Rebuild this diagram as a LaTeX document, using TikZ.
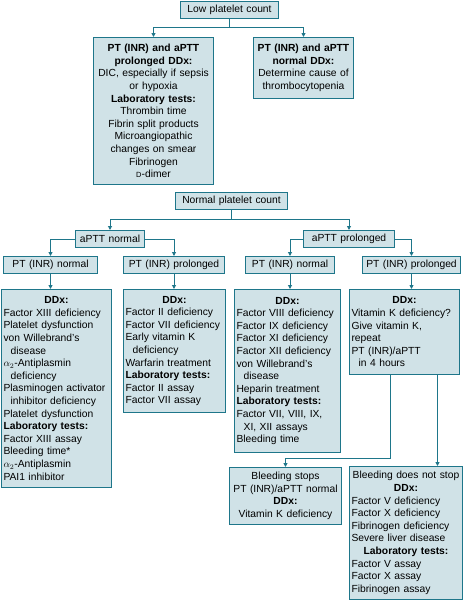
\documentclass[tikz,border=0pt]{standalone}
\usepackage{fontspec}
\setmainfont{Liberation Sans}
\usepackage{tikz}
\usetikzlibrary{arrows.meta}
\definecolor{boxfill}{RGB}{208,226,231}
\definecolor{edge}{RGB}{30,118,138}
\newcommand\hd[1]{{\centering\bfseries #1\par}}
\newcommand\ind{\hspace*{0.7em}}
\setlength{\parindent}{0pt}

\begin{document}
\begin{tikzpicture}[x=1pt, y=-1pt, >={Triangle[length=4pt,width=4pt]},
  box/.style={draw=edge, fill=boxfill, line width=1pt, anchor=north west, inner xsep=2pt, inner ysep=2pt, font={\fontsize{10.3}{12.6}\selectfont}},
  tag/.style={box, align=center, minimum height=17pt},
  list/.style={box, align=left},
  link/.style={draw=edge, line width=0.9pt, ->}]
\useasboundingbox (0,0) rectangle (464,600);
\node[tag, text width=94pt] (low) at (180,1) {Low platelet count};
\node[box, align=center, text width=116pt, minimum height=147pt] (lpro) at (93,37) {\textbf{PT (INR) and aPTT}\\ \textbf{prolonged DDx:}\\ DIC, especially if sepsis\\ or hypoxia\\ \textbf{Laboratory tests:}\\ Thrombin time\\ Fibrin split products\\ Microangiopathic\\ changes on smear\\ Fibrinogen\\ {\fontsize{7.5}{9}\selectfont D}-dimer};
\node[box, align=center, text width=96pt, minimum height=61pt] (lnorm) at (253,37) {\textbf{PT (INR) and aPTT}\\ \textbf{normal DDx:}\\ Determine cause of\\ thrombocytopenia};
\node[tag, text width=108pt] (normal) at (175,192) {Normal platelet count};
\node[tag, text width=65pt] (an) at (75,230) {aPTT normal};
\node[tag, text width=87pt] (ap) at (303,230) {aPTT prolonged};
\node[tag, text width=90pt] (ptnn) at (3,256) {PT (INR) normal};
\node[tag, text width=97pt] (ptnp) at (123,256) {PT (INR) prolonged};
\node[tag, text width=85pt] (ptpn) at (245,256) {PT (INR) normal};
\node[tag, text width=94pt] (ptpp) at (362,256) {PT (INR) prolonged};
\node[list, text width=106pt, minimum height=198pt] (ddx1) at (1,289) {\hd{DDx:}Factor XIII deficiency\\ Platelet dysfunction\\ von Willebrand's\\ \ind disease\\ $\alpha_2$-Antiplasmin\\ \ind deficiency\\ Plasminogen activator\\ \ind inhibitor deficiency\\ Platelet dysfunction\\ \textbf{Laboratory tests:}\\ Factor XIII assay\\ Bleeding time*\\ $\alpha_2$-Antiplasmin\\ PAI1 inhibitor};
\node[list, text width=98pt, minimum height=123pt] (ddx2) at (123,289) {\hd{DDx:}Factor II deficiency\\ Factor VII deficiency\\ Early vitamin K\\ \ind deficiency\\ Warfarin treatment\\ \textbf{Laboratory tests:}\\ Factor II assay\\ Factor VII assay};
\node[list, text width=102pt, minimum height=163pt] (ddx3) at (234,289) {\hd{DDx:}Factor VIII deficiency\\ Factor IX deficiency\\ Factor XI deficiency\\ Factor XII deficiency\\ von Willebrand's\\ \ind disease\\ Heparin treatment\\ \textbf{Laboratory tests:}\\ Factor VII, VIII, IX,\\ \ind XI, XII assays\\ Bleeding time};
\node[list, text width=106pt, minimum height=85pt] (ddx4) at (349,289) {\hd{DDx:}Vitamin K deficiency?\\ Give vitamin K,\\ repeat\\ PT (INR)/aPTT\\ \ind in 4 hours};
\node[box, align=center, text width=108pt, minimum height=57pt] (stops) at (229,467) {Bleeding stops\\ PT (INR)/aPTT normal\\ \textbf{DDx:}\\ Vitamin K deficiency};
\node[list, text width=109pt, minimum height=133pt] (nostop) at (349,466) {\hd{\mdseries Bleeding does not stop}\hd{DDx:}Factor V deficiency\\ Factor X deficiency\\ Fibrinogen deficiency\\ Severe liver disease\par\hd{Laboratory tests:}Factor V assay\\ Factor X assay\\ Fibrinogen assay};
\draw[link] (low.south) -- ++(0,8) -| (lpro.north);
\draw[link] (low.south) -- ++(0,8) -| (lnorm.north);
\draw[link] (normal.south) -- ++(0,9) -| (an.north);
\draw[link] (normal.south) -- ++(0,9) -| (ap.north);
\draw[link] (an.west) -| (ptnn.north);
\draw[link] (an.east) -| (ptnp.north);
\draw[link] (ap.west) -| (ptpn.north);
\draw[link] (ap.east) -| (ptpp.north);
\draw[link] (ptnn.south) -- (ptnn.south |- ddx1.north);
\draw[link] (ptnp.south) -- (ptnp.south |- ddx2.north);
\draw[link] (ptpn.south) -- (ptpn.south |- ddx3.north);
\draw[link] (ptpp.south) -- (ptpp.south |- ddx4.north);
\draw[link] ([xshift=-14pt]ddx4.south) -- ++(0,83) -| (stops.north);
\draw[link] ([xshift=33pt]ddx4.south) -- ([xshift=33pt]ddx4.south |- nostop.north);
\end{tikzpicture}
\end{document}
